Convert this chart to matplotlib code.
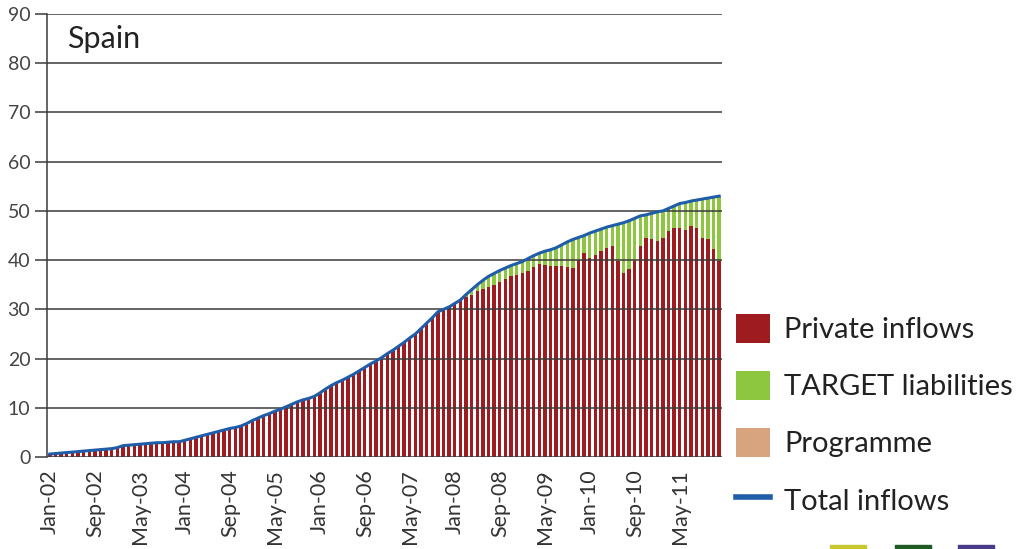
import matplotlib.pyplot as plt
import matplotlib.transforms as mtransforms
from matplotlib.patches import Patch, Rectangle
from matplotlib.lines import Line2D
import numpy as np

plt.rcParams['font.family'] = ['Lato', 'DejaVu Sans']

# monthly data, Jan-02 .. Dec-11 (EUR bn)
total_inflows = [
    0.6, 0.7, 0.8, 0.9, 1.0, 1.1, 1.2, 1.3, 1.4, 1.5,
    1.6, 1.7, 1.9, 2.3, 2.4, 2.5, 2.6, 2.7, 2.8, 2.9,
    2.9, 3.0, 3.1, 3.1, 3.4, 3.7, 4.0, 4.3, 4.6, 4.9,
    5.2, 5.5, 5.8, 6.0, 6.3, 6.8, 7.4, 7.9, 8.4, 8.8,
    9.3, 9.7, 10.2, 10.7, 11.2, 11.6, 11.9, 12.3, 13.0, 13.8,
    14.5, 15.1, 15.6, 16.2, 16.8, 17.5, 18.2, 18.9, 19.5, 20.2,
    21.0, 21.7, 22.5, 23.3, 24.2, 25.0, 26.1, 27.2, 28.3, 29.5,
    30.0, 30.5, 31.2, 31.9, 33.0, 34.0, 35.0, 35.9, 36.7, 37.3,
    37.9, 38.4, 38.9, 39.3, 39.7, 40.3, 40.9, 41.4, 41.8, 42.1,
    42.5, 43.1, 43.7, 44.2, 44.6, 45.0, 45.5, 45.9, 46.3, 46.7,
    47.0, 47.3, 47.6, 48.0, 48.5, 49.0, 49.2, 49.5, 49.8, 50.0,
    50.5, 51.0, 51.5, 51.7, 52.0, 52.2, 52.4, 52.6, 52.8, 53.0,
]
private_inflows = total_inflows[:74] + [
    32.5, 33.0, 33.8, 34.2, 34.5, 35.0,
    35.5, 36.2, 36.7, 37.0, 37.3, 37.8, 38.6, 39.3, 39.0, 38.9,
    38.9, 38.8, 38.6, 38.4, 40.0, 41.5, 40.5, 41.1, 41.8, 42.5,
    42.8, 39.8, 37.4, 38.1, 39.8, 42.8, 44.5, 44.2, 43.8, 44.5,
    45.9, 46.6, 46.6, 46.2, 46.9, 46.6, 44.5, 44.2, 42.2, 39.8,
]
programme = [0.0] * 120
target = [t - p - g for t, p, g in zip(total_inflows, private_inflows, programme)]

tick_labels = ['Jan-02', 'Sep-02', 'May-03', 'Jan-04', 'Sep-04', 'May-05', 'Jan-06', 'Sep-06',
               'May-07', 'Jan-08', 'Sep-08', 'May-09', 'Jan-10', 'Sep-10', 'May-11']

c_red = '#9e1b1f'
c_green = '#8dc63f'
c_tan = '#d8a47f'
c_blue = '#1f5da8'

fig = plt.figure(figsize=(10.23, 5.49), dpi=100)
ax = fig.add_axes([47 / 1023, 1 - 457 / 549, 675 / 1023, 443 / 549])

x = np.arange(len(total_inflows))
w = 0.6
ax.bar(x, private_inflows, w, color=c_red, zorder=1)
ax.bar(x, target, w, bottom=private_inflows, color=c_green, zorder=1)
ax.bar(x, programme, w, bottom=np.add(private_inflows, target), color=c_tan, zorder=1)
ax.plot(x, total_inflows, color=c_blue, lw=2.2, zorder=4)

ax.set_xlim(-0.5, len(x) - 0.5)
ax.set_ylim(0, 90)
ax.set_yticks(range(0, 91, 10))
for v in range(0, 91, 10):
    ax.axhline(v, color='#3a3a3a', lw=1.1, zorder=3)

ax.set_xticks(x[::8])
ax.set_xticklabels(tick_labels, rotation=90, fontsize=15.5, color='#333333')
shift = mtransforms.ScaledTranslation(0.08, 0, fig.dpi_scale_trans)
for lab in ax.get_xticklabels():
    lab.set_transform(lab.get_transform() + shift)
ax.tick_params(axis='x', length=0, pad=9)
ax.tick_params(axis='y', length=9, width=1.1, color='#3a3a3a', labelsize=14,
               labelcolor='#444444', pad=3)

for s in ['top', 'right', 'bottom']:
    ax.spines[s].set_visible(False)
ax.spines['left'].set_color('#3a3a3a')
ax.spines['left'].set_linewidth(1.1)

ax.text(0.03, 0.975, 'Spain', transform=ax.transAxes, fontsize=22, color='#222222',
        va='top', ha='left')

handles = [
    Patch(facecolor=c_red, label='Private inflows'),
    Patch(facecolor=c_green, label='TARGET liabilities'),
    Patch(facecolor=c_tan, label='Programme'),
    Line2D([0], [0], color=c_blue, lw=4, label='Total inflows'),
]
leg = fig.legend(handles=handles, loc='upper left', bbox_to_anchor=(736 / 1023, 1 - 314 / 549),
                 frameon=False, fontsize=21, handlelength=1.15, handleheight=1.15,
                 handletextpad=0.5, labelspacing=0.95, borderpad=0, borderaxespad=0)
for t in leg.get_texts():
    t.set_color('#222222')

# cut-off swatches at the bottom edge of the original picture
for x0, col in [(830, '#c8c832'), (895, '#1e5a23'), (958, '#4a3a8a')]:
    fig.add_artist(Rectangle((x0 / 1023, 0), 36 / 1023, 4 / 549, color=col,
                             transform=fig.transFigure))

fig.savefig('out.png', dpi=100)
